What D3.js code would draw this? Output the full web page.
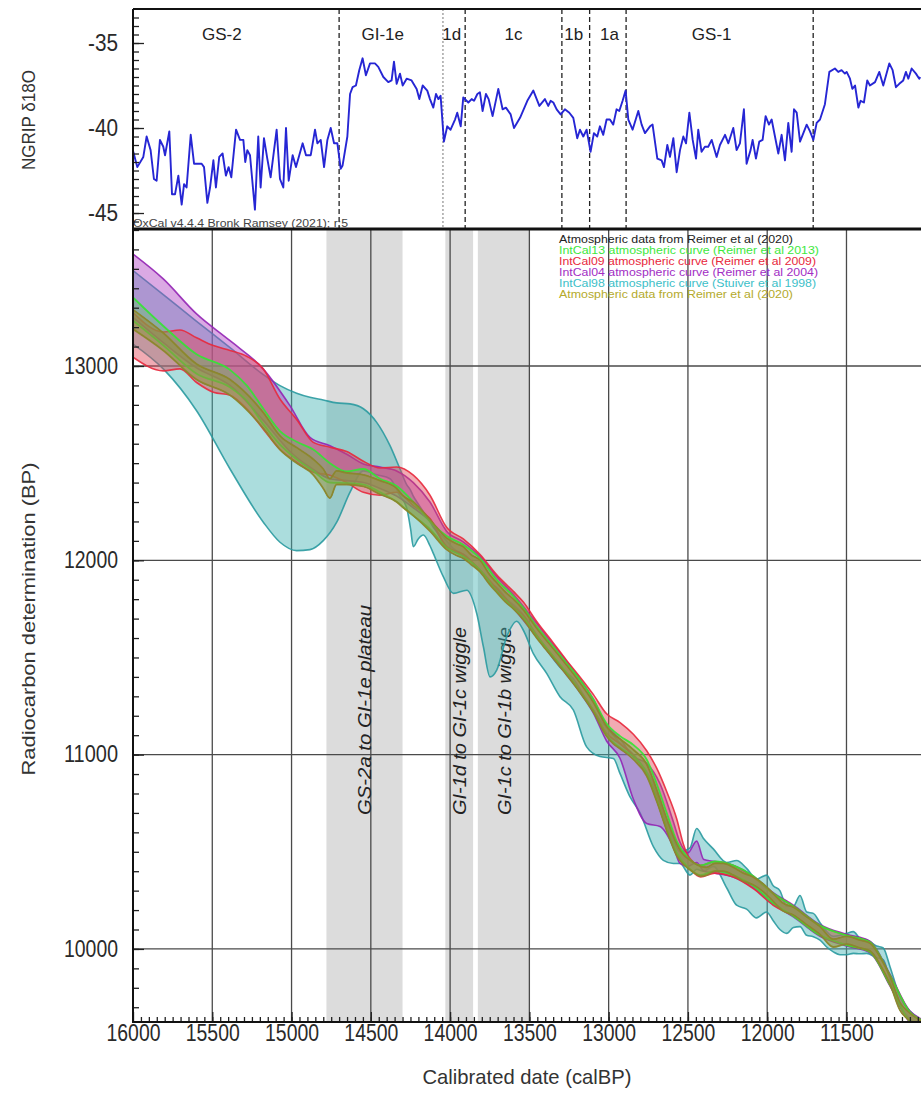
<!DOCTYPE html>
<html>
<head>
<meta charset="utf-8">
<script src="https://cdn.jsdelivr.net/npm/d3@7"></script>
<style>
  body { margin: 0; background: #fff; }
  text { font-family: "Liberation Sans", Arial, sans-serif; }
</style>
</head>
<body>
<svg id="chart"></svg>
<script>
// NGRIP d18O record (calBP, permil)
var ngripYears = [15998,15973,15935,15914,15889,15868,15851,15830,15809,15798,
  15771,15754,15735,15714,15693,15678,15662,15636,15615,15567,
  15552,15531,15514,15493,15477,15456,15435,15414,15397,15380,
  15350,15325,15304,15292,15279,15262,15231,15210,15195,15174,
  15153,15132,15094,15073,15052,15035,15018,14993,14972,14930,
  14909,14879,14852,14837,14816,14795,14774,14753,14732,14711,
  14690,14678,14648,14631,14615,14594,14573,14552,14531,14505,
  14474,14453,14421,14390,14369,14354,14337,14316,14299,14274,
  14243,14211,14194,14173,14144,14127,14106,14089,14074,14060,
  14039,14018,13997,13969,13955,13933,13917,13885,13864,13849,
  13828,13812,13795,13774,13757,13732,13696,13669,13648,13618,
  13597,13559,13513,13475,13437,13402,13381,13366,13349,13328,
  13303,13276,13248,13223,13198,13181,13160,13139,13114,13093,
  13072,13055,13034,13013,12992,12971,12950,12933,12912,12893,
  12876,12849,12813,12792,12771,12739,12723,12693,12666,12651,
  12630,12613,12592,12571,12550,12529,12512,12491,12470,12449,
  12435,12414,12393,12372,12350,12319,12298,12266,12245,12214,
  12193,12172,12147,12130,12105,12092,12071,12050,12029,12010,
  11989,11972,11951,11930,11909,11888,11867,11846,11831,11814,
  11793,11772,11751,11730,11709,11688,11667,11636,11608,11573,
  11552,11531,11510,11499,11478,11463,11446,11425,11411,11390,
  11369,11352,11320,11293,11268,11230,11209,11188,11167,11142,
  11125,11110,11089,11062,11041,11035];
var ngripD18O = [-41.4,-42.3,-41.7,-40.5,-41.3,-43.0,-43.1,-40.7,-41.1,-41.6,
  -40.2,-43.9,-43.9,-42.8,-44.5,-43.3,-43.5,-40.4,-42.1,-42.1,
  -42.3,-44.4,-43.5,-41.9,-43.5,-41.7,-41.5,-42.8,-42.3,-42.9,
  -40.1,-40.7,-40.7,-42.0,-41.3,-41.6,-44.8,-40.5,-43.5,-40.6,
  -41.8,-42.9,-40.1,-43.0,-43.5,-40.0,-43.1,-41.6,-42.3,-40.9,
  -41.6,-41.6,-40.1,-40.9,-40.7,-42.3,-40.7,-40.0,-40.9,-40.9,
  -42.4,-42.2,-40.5,-38.0,-37.6,-37.5,-36.6,-35.9,-36.9,-36.2,
  -36.2,-36.4,-37.0,-37.3,-37.2,-36.1,-37.4,-36.8,-37.5,-37.1,
  -37.2,-37.7,-38.3,-37.5,-37.8,-38.3,-38.8,-38.0,-38.3,-38.1,
  -40.8,-39.9,-40.1,-39.5,-39.1,-39.9,-38.2,-38.5,-38.3,-38.4,
  -38.0,-37.9,-39.0,-38.0,-38.3,-39.3,-37.7,-38.9,-38.8,-39.2,
  -40.0,-39.4,-38.4,-37.8,-38.7,-38.3,-38.7,-38.4,-38.5,-38.9,
  -39.2,-38.9,-39.1,-39.4,-40.6,-40.1,-40.5,-40.1,-41.4,-40.3,
  -40.5,-39.9,-40.4,-39.5,-39.5,-39.8,-38.9,-39.0,-38.4,-37.8,
  -39.5,-40.1,-39.0,-39.8,-40.3,-39.9,-39.8,-41.8,-41.9,-42.3,
  -41.0,-41.7,-40.6,-42.6,-41.3,-40.5,-40.9,-39.1,-40.7,-41.8,
  -40.1,-41.4,-41.1,-41.1,-40.7,-41.7,-41.0,-40.4,-40.9,-40.0,
  -41.3,-40.9,-38.9,-42.1,-41.3,-40.7,-41.8,-40.8,-40.7,-39.3,
  -39.8,-39.5,-40.5,-41.5,-40.4,-41.9,-39.7,-41.4,-38.9,-39.1,
  -40.8,-40.3,-39.8,-40.2,-40.7,-39.7,-39.5,-38.6,-36.7,-36.5,
  -36.7,-36.6,-36.8,-36.7,-37.1,-37.7,-37.5,-38.8,-38.4,-38.5,
  -37.2,-37.5,-37.3,-36.7,-37.5,-36.2,-36.6,-37.6,-37.4,-37.2,
  -36.7,-37.1,-36.5,-36.8,-37.1,-37.0];

// event stratigraphy boundaries (calBP) and stage labels
var boundaryYears = [14700, 14045, 13905, 13295, 13120, 12890, 11710];
var stageLabels = ["GS-2", "GI-1e", "1d", "1c", "1b", "1a", "GS-1"];
var stageLabelYears = [15440, 14425, 13990, 13600, 13220, 12995, 12350];

// shaded periods [from, to] calBP
var shadeBands = [[14780, 14300], [14030, 13855], [13825, 13500]];
var shadeLabels = ["GS-2a to GI-1e plateau", "GI-1d to GI-1c wiggle", "GI-1c to GI-1b wiggle"];

// calibration curves: [calBP, mean 14C BP, sigma]
var intcal20 = [[16000,13240,50],[15809,13125,45],[15599,12970,40],[15388,12890,40],[15178,12720,40],
  [15073,12605,35],[14968,12540,40],[14863,12480,40],[14800,12420,50],[14758,12370,50],[14716,12425,35],
  [14652,12420,30],[14547,12410,30],[14442,12375,35],[14337,12335,35],[14295,12300,30],[14232,12265,35],
  [14127,12180,30],[14022,12085,30],[13960,12055,30],[13917,12040,30],[13870,12005,25],[13811,11970,30],
  [13750,11900,25],[13706,11860,25],[13650,11810,25],[13601,11775,25],[13538,11720,25],[13454,11625,25],
  [13400,11570,25],[13349,11520,25],[13265,11435,25],[13181,11345,25],[13097,11245,25],[13013,11120,25],
  [12970,11080,25],[12928,11055,25],[12844,11000,25],[12760,10920,30],[12697,10790,30],[12634,10640,30],
  [12571,10510,30],[12529,10460,25],[12500,10440,25],[12466,10420,25],[12420,10400,25],[12382,10400,20],
  [12330,10420,20],[12277,10420,20],[12214,10400,20],[12151,10370,20],[12088,10350,20],[12025,10315,20],
  [11962,10265,20],[11899,10215,20],[11835,10195,20],[11751,10145,20],[11667,10095,20],[11583,10030,20],
  [11499,10045,20],[11415,10025,20],[11352,10010,20],[11289,9940,20],[11226,9840,20],[11163,9705,20],
  [11100,9650,20],[11030,9610,20]];
var intcal13 = [[16000,13293,60],[15809,13156,50],[15599,13010,50],[15388,12935,45],[15283,12860,40],
  [15178,12740,40],[15073,12630,35],[14968,12565,45],[14863,12515,55],[14758,12450,50],[14652,12427,30],
  [14547,12430,40],[14442,12385,35],[14337,12342,40],[14232,12265,35],[14127,12180,20],[14022,12095,30],
  [13917,12050,30],[13811,11980,30],[13706,11870,30],[13601,11785,30],[13538,11730,25],[13454,11635,25],
  [13349,11530,25],[13265,11445,25],[13181,11355,30],[13097,11255,30],[13013,11130,30],[12928,11065,30],
  [12844,11020,30],[12760,10940,35],[12697,10810,40],[12634,10660,40],[12571,10525,30],[12500,10445,25],
  [12420,10405,25],[12330,10425,25],[12214,10405,25],[12088,10350,25],[11962,10260,25],[11835,10195,25],
  [11667,10095,25],[11499,10045,25],[11352,10010,25],[11226,9840,25],[11100,9650,25],[11030,9610,25]];
var intcal09 = [[16000,13160,115],[15809,13075,100],[15704,13085,100],[15599,13030,115],[15493,12985,120],
  [15388,12965,115],[15283,12915,135],[15178,12830,155],[15073,12700,130],[14968,12615,110],[14863,12530,77],
  [14758,12510,72],[14652,12480,80],[14547,12430,80],[14442,12405,70],[14337,12415,65],[14232,12360,78],
  [14127,12275,60],[14022,12120,50],[13917,12070,40],[13811,11990,40],[13706,11890,35],[13601,11800,40],
  [13538,11750,35],[13454,11650,35],[13349,11540,35],[13265,11450,35],[13181,11365,35],[13097,11270,40],
  [13013,11160,50],[12928,11110,55],[12844,11050,55],[12760,10960,60],[12697,10860,70],[12634,10720,90],
  [12571,10580,90],[12529,10490,50],[12500,10450,30],[12420,10400,30],[12330,10420,30],[12214,10400,30],
  [12088,10340,30],[11962,10255,30],[11835,10195,25],[11667,10095,25],[11499,10045,25],[11352,10010,25],
  [11226,9840,25],[11100,9650,25],[11030,9610,25]];
var intcal04 = [[16000,13413,163],[15809,13284,164],[15599,13129,139],[15388,13015,115],[15178,12852,132],
  [15010,12678,118],[14884,12556,77],[14758,12505,85],[14652,12478,68],[14547,12448,48],[14442,12425,55],
  [14337,12395,65],[14232,12335,65],[14127,12250,50],[14022,12110,40],[13917,12060,35],[13811,11985,35],
  [13706,11880,35],[13601,11790,35],[13454,11640,35],[13349,11530,35],[13265,11445,35],[13181,11355,35],
  [13097,11250,35],[13013,11110,40],[12928,11030,50],[12844,10880,110],[12760,10800,155],[12676,10740,110],
  [12592,10590,65],[12550,10495,55],[12500,10460,35],[12445,10500,55],[12400,10430,30],[12330,10420,30],
  [12214,10400,30],[12088,10345,30],[11962,10260,30],[11835,10195,30],[11667,10095,30],[11499,10045,30],
  [11352,10010,30],[11226,9840,30],[11100,9650,30],[11030,9610,30]];
var intcal98 = [[16000,13302,189],[15809,13176,191],[15599,13000,230],[15388,12782,312],[15178,12576,380],
  [15073,12496,403],[14968,12455,405],[14884,12447,392],[14800,12463,362],[14715,12503,307],[14631,12578,227],
  [14547,12620,160],[14463,12575,135],[14379,12505,85],[14316,12400,70],[14274,12330,60],[14249,12260,100],
  [14232,12200,130],[14201,12200,90],[14169,12190,60],[14127,12138,63],[14106,12103,67],[14043,12018,102],
  [13979,11945,115],[13895,11933,87],[13832,11843,117],[13790,11743,188],[13748,11640,240],[13706,11648,213],
  [13643,11703,97],[13580,11721,35],[13538,11680,40],[13475,11580,60],[13391,11479,61],[13307,11374,76],
  [13223,11310,80],[13139,11160,120],[13055,11085,95],[12970,11040,60],[12928,10980,78],[12865,10900,118],
  [12802,10830,130],[12718,10688,162],[12655,10578,122],[12592,10500,60],[12550,10470,30],[12487,10450,70],
  [12445,10515,105],[12403,10485,85],[12340,10470,45],[12256,10380,65],[12193,10340,115],[12130,10310,105],
  [12067,10260,100],[12004,10285,95],[11962,10235,90],[11920,10200,100],[11877,10150,70],[11835,10165,55],
  [11793,10195,80],[11751,10130,60],[11709,10123,60],[11667,10090,45],[11625,10050,40],[11583,10025,40],
  [11541,10020,50],[11499,10025,55],[11457,10033,56],[11415,10015,40],[11373,10012,35],[11310,9985,30],
  [11268,9975,30],[11226,9875,35],[11163,9728,25],[11100,9660,20],[11030,9615,20]];

var legendLabels = ["Atmospheric data from Reimer et al (2020)",
  "IntCal13 atmospheric curve (Reimer et al 2013)",
  "IntCal09 atmospheric curve (Reimer et al 2009)",
  "IntCal04 atmospheric curve (Reimer et al 2004)",
  "IntCal98 atmospheric curve (Stuiver et al 1998)",
  "Atmospheric data from Reimer et al (2020)"];
var legendColors = ["#222222", "#3ee83e", "#e8283c", "#a22ec4", "#3cc0c8", "#b4aa2c"];
var legendWidths = [234, 260, 257, 259, 257, 234];

var W = 921, H = 1093;
var svg = d3.select("#chart").attr("width", W).attr("height", H);

// shared calendar scale, two panels stacked
var x = d3.scaleLinear().domain([16000, 11030]).range([133, 921]);
var yTop = d3.scaleLinear().domain([-45.94, -33]).range([229, 9]);
var yBot = d3.scaleLinear().domain([9624, 13705]).range([1022, 229]);

var defs = svg.append("defs");
defs.append("clipPath").attr("id", "clipTop").append("rect")
  .attr("x", 133).attr("y", 9).attr("width", 921 - 133).attr("height", 220);
defs.append("clipPath").attr("id", "clipBot").append("rect")
  .attr("x", 133).attr("y", 229).attr("width", 921 - 133).attr("height", 1022 - 229);

// ---- bottom panel ----
var botPanel = svg.append("g").attr("clip-path", "url(#clipBot)");

// grey periods
botPanel.selectAll(".shade").data(shadeBands).enter().append("rect")
  .attr("x", function(d) { return x(d[0]); })
  .attr("width", function(d) { return x(d[1]) - x(d[0]); })
  .attr("y", 229).attr("height", 1022 - 229)
  .attr("fill", "#dcdcdc");

// grid
botPanel.selectAll(".vgrid").data(d3.range(15500, 11030, -500)).enter().append("line")
  .attr("x1", x).attr("x2", x).attr("y1", 229).attr("y2", 1022)
  .attr("stroke", "#4a4a4a").attr("stroke-width", 1.3);
botPanel.selectAll(".hgrid").data([10000, 11000, 12000, 13000]).enter().append("line")
  .attr("x1", 133).attr("x2", 921).attr("y1", yBot).attr("y2", yBot)
  .attr("stroke", "#4a4a4a").attr("stroke-width", 1.3);

// shade labels
botPanel.selectAll(".shadeLabel").data(shadeBands).enter().append("text")
  .attr("transform", function(d) { return "translate(" + ((x(d[0]) + x(d[1])) / 2 + 7) + ",815) rotate(-90)"; })
  .style("font-size", "18px").style("font-style", "italic")
  .attr("fill", "#222")
  .attr("textLength", function(d, i) { return i === 0 ? 210 : 188; })
  .attr("lengthAdjust", "spacingAndGlyphs")
  .text(function(d, i) { return shadeLabels[i]; });

function drawBand(data, fill, fillOp, stroke, sw) {
  var area = d3.area().curve(d3.curveMonotoneX)
    .x(function(d) { return x(d[0]); })
    .y0(function(d) { return yBot(d[1] - d[2]); })
    .y1(function(d) { return yBot(d[1] + d[2]); });
  var g = botPanel.append("g");
  g.append("path").datum(data).attr("d", area)
    .attr("fill", fill).attr("fill-opacity", fillOp);
  g.append("path").datum(data).attr("d", area.lineY1())
    .attr("fill", "none").attr("stroke", stroke).attr("stroke-width", sw).attr("stroke-opacity", 0.9);
  g.append("path").datum(data).attr("d", area.lineY0())
    .attr("fill", "none").attr("stroke", stroke).attr("stroke-width", sw).attr("stroke-opacity", 0.9);
}

drawBand(intcal98, "#44b4b4", 0.45, "#2a9aa0", 1.6);
drawBand(intcal04, "#b040c4", 0.45, "#9224b4", 1.6);
drawBand(intcal09, "#e04456", 0.45, "#e8283c", 1.6);
drawBand(intcal13, "#50d050", 0.35, "#32e632", 1.8);
drawBand(intcal20, "#777777", 0.25, "#555555", 1.0);
drawBand(intcal20, "#9a9a30", 0.45, "#8e8a2a", 1.8);

// legend
svg.selectAll(".legend").data(legendLabels).enter().append("text")
  .attr("x", 559).attr("y", function(d, i) { return 243 + i * 11; })
  .style("font-size", "11px")
  .attr("fill", function(d, i) { return legendColors[i]; })
  .attr("textLength", function(d, i) { return legendWidths[i]; })
  .attr("lengthAdjust", "spacingAndGlyphs")
  .text(function(d) { return d; });

// ---- top panel ----
var topPanel = svg.append("g").attr("clip-path", "url(#clipTop)");

topPanel.selectAll(".boundary").data(boundaryYears).enter().append("line")
  .attr("x1", x).attr("x2", x).attr("y1", 9).attr("y2", 229)
  .attr("stroke", function(d, i) { return i === 1 ? "#777" : "#222"; })
  .attr("stroke-width", function(d, i) { return i === 1 ? 1 : 1.3; })
  .attr("stroke-dasharray", function(d, i) { return i === 1 ? "2,2" : "5,3"; });

topPanel.selectAll(".stage").data(stageLabels).enter().append("text")
  .attr("x", function(d, i) { return x(stageLabelYears[i]); })
  .attr("y", 40).attr("text-anchor", "middle")
  .style("font-size", "17px").attr("fill", "#222")
  .text(function(d) { return d; });

var ngrip = d3.line()
  .x(function(d, i) { return x(ngripYears[i]); })
  .y(function(d) { return yTop(d); });
topPanel.append("path").datum(ngripD18O).attr("d", ngrip)
  .attr("fill", "none").attr("stroke", "#2626d4").attr("stroke-width", 1.9)
  .attr("stroke-linejoin", "round");

svg.append("text").attr("x", 133).attr("y", 227)
  .style("font-size", "10px").attr("fill", "#444")
  .attr("textLength", 215).attr("lengthAdjust", "spacingAndGlyphs")
  .text("OxCal v4.4.4 Bronk Ramsey (2021); r:5");

// ---- axes ----
function styleAxis(g, len) {
  g.select(".domain").remove();
  g.selectAll(".tick line").attr("stroke", "#222").attr("stroke-width", 1.3);
  g.selectAll(".tick text").attr("fill", "#2a2a2a").style("font-size", "23px")
    .attr("textLength", len).attr("lengthAdjust", "spacingAndGlyphs");
}

var gTopMinor = svg.append("g").attr("transform", "translate(133,0)")
  .call(d3.axisLeft(yTop).tickValues(d3.range(-45.5, -33.2, 0.5)).tickSize(-6).tickFormat(""));
styleAxis(gTopMinor, 0);
var gTop = svg.append("g").attr("transform", "translate(133,0)")
  .call(d3.axisLeft(yTop).tickValues([-45, -40, -35]).tickSize(-11).tickPadding(15)
    .tickFormat(function(d) { return String(d); }));
styleAxis(gTop, 30);

var gBotMinor = svg.append("g").attr("transform", "translate(133,0)")
  .call(d3.axisLeft(yBot).tickValues(d3.range(9700, 13701, 100)).tickSize(-6).tickFormat(""));
styleAxis(gBotMinor, 0);
var gBot = svg.append("g").attr("transform", "translate(133,0)")
  .call(d3.axisLeft(yBot).tickValues([10000, 11000, 12000, 13000]).tickSize(-11).tickPadding(15)
    .tickFormat(d3.format("d")));
styleAxis(gBot, 54);

var gxMinor = svg.append("g").attr("transform", "translate(0,1022)")
  .call(d3.axisBottom(x).tickValues(d3.range(15950, 11030, -50)).tickSize(-5).tickFormat(""));
styleAxis(gxMinor, 0);
var gx = svg.append("g").attr("transform", "translate(0,1022)")
  .call(d3.axisBottom(x).tickValues(d3.range(16000, 11030, -500)).tickSize(-10).tickPadding(3)
    .tickFormat(d3.format("d")));
styleAxis(gx, 54);
svg.selectAll(".tick text").filter(function() { return this.textContent === ""; }).remove();

// frame
svg.append("line").attr("x1", 133).attr("x2", 921).attr("y1", 9).attr("y2", 9)
  .attr("stroke", "#111").attr("stroke-width", 2);
svg.append("line").attr("x1", 133).attr("x2", 921).attr("y1", 229).attr("y2", 229)
  .attr("stroke", "#111").attr("stroke-width", 3);
svg.append("line").attr("x1", 133).attr("x2", 921).attr("y1", 1022).attr("y2", 1022)
  .attr("stroke", "#111").attr("stroke-width", 2);
svg.append("line").attr("x1", 133).attr("x2", 133).attr("y1", 9).attr("y2", 1023)
  .attr("stroke", "#111").attr("stroke-width", 2);

// axis titles
svg.append("text").attr("transform", "translate(35,120) rotate(-90)")
  .attr("text-anchor", "middle").style("font-size", "19px").attr("fill", "#333")
  .attr("textLength", 100).attr("lengthAdjust", "spacingAndGlyphs")
  .text("NGRIP δ18O");
svg.append("text").attr("transform", "translate(35,619) rotate(-90)")
  .attr("text-anchor", "middle").style("font-size", "18px").attr("fill", "#333")
  .attr("textLength", 313).attr("lengthAdjust", "spacingAndGlyphs")
  .text("Radiocarbon determination (BP)");
svg.append("text").attr("x", 527).attr("y", 1084)
  .attr("text-anchor", "middle").style("font-size", "21px").attr("fill", "#333")
  .attr("textLength", 209).attr("lengthAdjust", "spacingAndGlyphs")
  .text("Calibrated date (calBP)");
</script>
</body>
</html>
